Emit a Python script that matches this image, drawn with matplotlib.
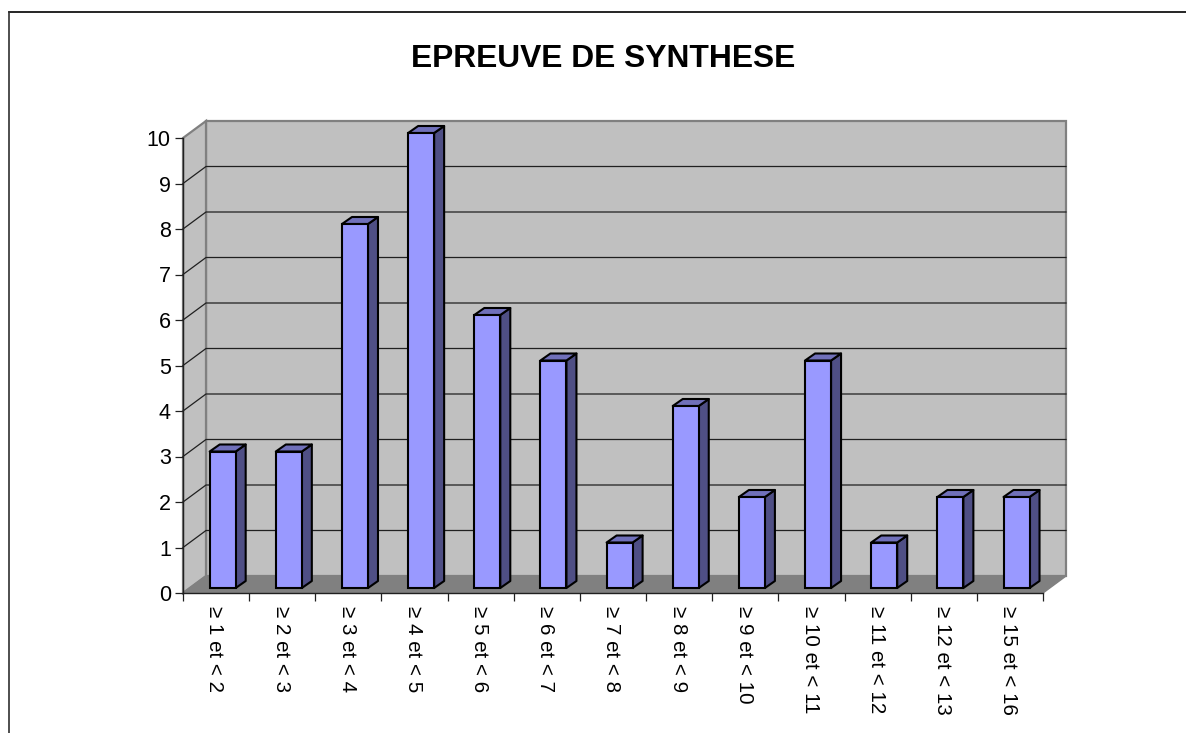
import matplotlib
matplotlib.use("Agg")
import matplotlib.pyplot as plt
from matplotlib.patches import Polygon, Rectangle
from matplotlib.lines import Line2D

plt.rcParams['font.family'] = ['Liberation Sans', 'DejaVu Sans']

labels = ["≥ 1 et < 2", "≥ 2 et < 3", "≥ 3 et < 4", "≥ 4 et < 5", "≥ 5 et < 6", "≥ 6 et < 7", "≥ 7 et < 8",
          "≥ 8 et < 9", "≥ 9 et < 10", "≥ 10 et < 11", "≥ 11 et < 12", "≥ 12 et < 13", "≥ 15 et < 16"]
counts = [3, 3, 8, 10, 6, 5, 1, 4, 2, 5, 1, 2, 2]
yticks = list(range(0, 11))

W, H = 1186, 733
fig = plt.figure(figsize=(W / 100, H / 100), dpi=100)
fig.patch.set_facecolor("white")

# axes box = the front plane of the fake 3d chart
left, right, top, bottom = 183, 1043, 138, 593
ax = fig.add_axes([left / W, 1 - bottom / H, (right - left) / W, (bottom - top) / H])
ax.set_xlim(0, len(counts))
ax.set_ylim(0, 10)
ax.patch.set_visible(False)

# oblique offsets, in data units
ux = (right - left) / len(counts)
uy = (bottom - top) / 10
dx = 23 / ux
dy = 17 / uy

n = len(counts)
ax.add_patch(Polygon([(dx, dy), (n + dx, dy), (n + dx, 10 + dy), (dx, 10 + dy)], fc="#C0C0C0", ec="#808080", lw=1.6, clip_on=False, zorder=1))
ax.add_patch(Polygon([(0, 0), (dx, dy), (dx, 10 + dy), (0, 10)], fc="#C0C0C0", ec="#808080", lw=1.6, clip_on=False, zorder=1))
ax.add_patch(Polygon([(0, 0), (n, 0), (n + dx, dy), (dx, dy)], fc="#808080", ec="#808080", lw=1, clip_on=False, zorder=1.5))

for v in yticks[1:-1]:
    ax.plot([0, dx, n + dx], [v, v + dy, v + dy], color="#202020", lw=0.9, clip_on=False, zorder=2)

# bars sit a bit inside the floor
bx = 6.6 / ux
by = 5 / uy
bw = 26 / ux
ddx = 10 / ux
ddy = 7 / uy
for i, c in enumerate(counts):
    x0 = i + 0.5 - bw / 2 + bx
    x1 = x0 + bw
    y0 = by
    y1 = c + by
    ax.add_patch(Polygon([(x1, y0), (x1 + ddx, y0 + ddy), (x1 + ddx, y1 + ddy), (x1, y1)], fc="#4F4F85", ec="black", lw=1.5, clip_on=False, zorder=3, joinstyle="round"))
    ax.add_patch(Polygon([(x0, y1), (x1, y1), (x1 + ddx, y1 + ddy), (x0 + ddx, y1 + ddy)], fc="#7070BA", ec="black", lw=1.5, clip_on=False, zorder=3, joinstyle="round"))
    ax.add_patch(Rectangle((x0, y0), bw, c, fc="#9999FF", ec="black", lw=1.5, clip_on=False, zorder=4))

for s in ["top", "right"]:
    ax.spines[s].set_visible(False)
for s in ["left", "bottom"]:
    ax.spines[s].set_color("#202020")
    ax.spines[s].set_linewidth(1)
    ax.spines[s].set_zorder(2.5)

ax.set_yticks(yticks)
ax.set_xticks(range(n + 1))
ax.set_xticklabels([])
ax.tick_params(axis="y", length=5.8, width=0.9, labelsize=15.5, pad=3, color="#202020")
ax.tick_params(axis="x", length=6, width=0.9, color="#202020")
for i, lab in enumerate(labels):
    ax.annotate(lab, (i + 0.5, 0), xytext=(-0.8, -9.5), xycoords="data", textcoords="offset points",
                rotation=270, ha="center", va="top", fontsize=14.8, color="black", annotation_clip=False)

fig.text(603.5 / W, 1 - 59 / H, "EPREUVE DE SYNTHESE", fontsize=22.9, fontweight="bold", ha="center", va="center", color="black")

# frame of the chart: only top and left edges are inside the picture
fig.add_artist(Line2D([9 / W, 1], [1 - 12 / H, 1 - 12 / H], transform=fig.transFigure, color="black", lw=1.2))
fig.add_artist(Line2D([9 / W, 9 / W], [0, 1 - 12 / H], transform=fig.transFigure, color="#303030", lw=1.2))

fig.savefig("out.png", dpi=100)
